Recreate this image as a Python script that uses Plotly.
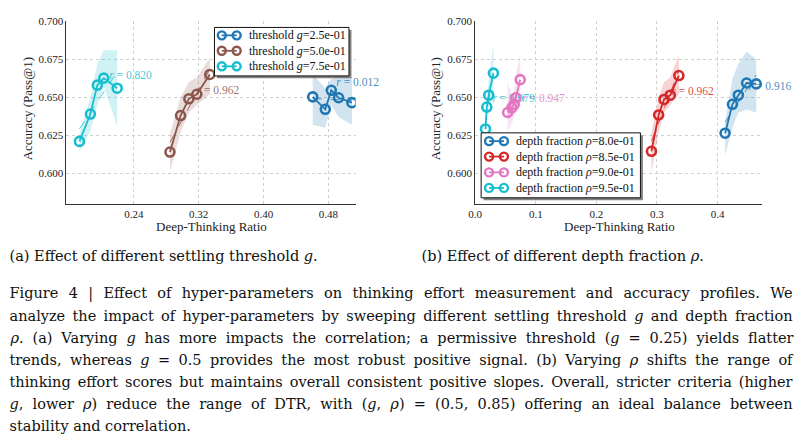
import json
import numpy as np
import plotly.graph_objects as go

# ---- data ----
# (a) settling threshold g
g_names = ['threshold <i>g</i>=2.5e-01', 'threshold <i>g</i>=5.0e-01', 'threshold <i>g</i>=7.5e-01']
g_x = [
    [0.4606, 0.4761, 0.4835, 0.4925, 0.5089],
    [0.2846, 0.2977, 0.3079, 0.3177, 0.3337],
    [0.1730, 0.1865, 0.1950, 0.2030, 0.2195],
]
g_acc = [
    [0.6503, 0.6421, 0.6546, 0.6497, 0.6465],
    [0.6140, 0.6380, 0.6490, 0.6520, 0.6650],
    [0.6210, 0.6390, 0.6580, 0.6626, 0.6560],
]
g_lo = [
    [0.632, 0.630, 0.645, 0.637, 0.632],
    [0.601, 0.627, 0.640, 0.645, 0.652],
    [0.614, 0.628, 0.645, 0.657, 0.631],
]
g_hi = [
    [0.665, 0.656, 0.662, 0.664, 0.663],
    [0.626, 0.650, 0.660, 0.663, 0.676],
    [0.626, 0.650, 0.672, 0.681, 0.681],
]
g_r = ['0.012', '0.962', '0.820']

# (b) depth fraction rho
rho_names = ['depth fraction <i>ρ</i>=8.0e-01', 'depth fraction <i>ρ</i>=8.5e-01',
             'depth fraction <i>ρ</i>=9.0e-01', 'depth fraction <i>ρ</i>=9.5e-01']
rho_x = [
    [0.4125, 0.4246, 0.4344, 0.4480, 0.4639],
    [0.2909, 0.3028, 0.3117, 0.3220, 0.3362],
    [0.0535, 0.0606, 0.0645, 0.0671, 0.0743],
    [0.0170, 0.0192, 0.0224, 0.0301],
]
rho_acc = [
    [0.6264, 0.6454, 0.6514, 0.6594, 0.6588],
    [0.6145, 0.6384, 0.6486, 0.6514, 0.6643],
    [0.6400, 0.6432, 0.6454, 0.6497, 0.6616],
    [0.6292, 0.6436, 0.6514, 0.6659],
]
rho_lo = [
    [0.612, 0.630, 0.640, 0.642, 0.640],
    [0.600, 0.627, 0.640, 0.645, 0.652],
    [0.627, 0.633, 0.637, 0.640, 0.645],
    [0.622, 0.637, 0.643, 0.650],
]
rho_hi = [
    [0.634, 0.662, 0.672, 0.680, 0.675],
    [0.627, 0.650, 0.660, 0.663, 0.678],
    [0.660, 0.652, 0.655, 0.665, 0.678],
    [0.636, 0.650, 0.662, 0.685],
]
rho_r = ['0.916', '0.962', '0.947', '0.979']

y_ticks = [0.600, 0.625, 0.650, 0.675, 0.700]
xa_ticks = [0.24, 0.32, 0.40, 0.48]
xb_ticks = [0.0, 0.1, 0.2, 0.3, 0.4]

# where the r = ... labels sit (data coords)
g_r_pos = [(0.4897, 0.659), (0.3175, 0.654), (0.2097, 0.6637)]
rho_r_pos = [(0.4513, 0.6566), (0.3236, 0.6536), (0.0776, 0.6486), (0.028, 0.649)]

g_cols = [(31, 119, 180), (140, 86, 75), (23, 190, 207)]
rho_cols = [(31, 119, 180), (214, 39, 40), (227, 119, 194), (23, 190, 207)]

caption_a = '(a) Effect of different settling threshold <i>g</i>.'
caption_b = '(b) Effect of different depth fraction <i>ρ</i>.'
para = [
    'Figure 4 | Effect of hyper-parameters on thinking effort measurement and accuracy profiles. We',
    'analyze the impact of hyper-parameters by sweeping different settling threshold <i>g</i> and depth fraction',
    '<i>ρ</i>. (a) Varying <i>g</i> has more impacts the correlation; a permissive threshold (<i>g</i> = 0.25) yields flatter',
    'trends, whereas <i>g</i> = 0.5 provides the most robust positive signal. (b) Varying <i>ρ</i> shifts the range of',
    'thinking effort scores but maintains overall consistent positive slopes. Overall, stricter criteria (higher',
    '<i>g</i>, lower <i>ρ</i>) reduce the range of DTR, with (<i>g</i>, <i>ρ</i>) = (0.5, 0.85) offering an ideal balance between',
    'stability and correlation.',
]

W, H = 803, 445
PLOT_FONT = 'Liberation Serif'
TEXT_FONT = 'DejaVu Serif'


def px(x):
    return x / W


def py(y):
    return 1 - y / H


def rgba(c, a):
    return 'rgba(%d,%d,%d,%g)' % (c[0], c[1], c[2], a)


fig = go.Figure()
shapes = []
ann = []


def add_panel(xs, ys, los, his, rs, rpos, cols, xax, yax):
    # bands
    for x, lo, hi, c in zip(xs, los, his, cols):
        fig.add_trace(go.Scatter(x=x + x[::-1], y=hi + lo[::-1], fill='toself',
                                 fillcolor=rgba(c, 0.2), line=dict(width=0),
                                 mode='lines', showlegend=False, hoverinfo='skip',
                                 xaxis=xax, yaxis=yax))
    # dashed linear fits
    for x, y, c in zip(xs, ys, cols):
        k, b = np.polyfit(x, y, 1)
        xx = np.array([min(x), max(x)])
        fig.add_trace(go.Scatter(x=xx, y=k * xx + b, mode='lines',
                                 line=dict(color=rgba(c, 0.8), width=1, dash='dash'),
                                 showlegend=False, hoverinfo='skip', xaxis=xax, yaxis=yax))
    # r labels (under the markers)
    for r, (lx, ly), c in zip(rs, rpos, cols):
        fig.add_trace(go.Scatter(x=[lx], y=[ly], mode='text', text=['<i>r</i> = ' + r],
                                 textposition='middle right',
                                 textfont=dict(family=PLOT_FONT, size=11.5, color=rgba(c, 0.85)),
                                 showlegend=False, hoverinfo='skip', cliponaxis=False,
                                 xaxis=xax, yaxis=yax))
    # main series
    for x, y, c in zip(xs, ys, cols):
        fig.add_trace(go.Scatter(x=x, y=y, mode='lines+markers', showlegend=False,
                                 line=dict(color=rgba(c, 1), width=1.8),
                                 marker=dict(symbol='circle-open', size=9, color=rgba(c, 1),
                                             line=dict(width=2.6)),
                                 xaxis=xax, yaxis=yax))


def add_legend(names, cols, box, row_y, c1, c2, tx):
    x0, y0, x1, y1 = box
    shapes.append(dict(type='rect', xref='paper', yref='paper', layer='above',
                       x0=px(x0 + 2.5), x1=px(x1 + 2.5), y0=py(y0 + 2.5), y1=py(y1 + 2.5),
                       fillcolor='rgba(90,90,90,0.75)', line=dict(width=0)))
    shapes.append(dict(type='rect', xref='paper', yref='paper', layer='above',
                       x0=px(x0), x1=px(x1), y0=py(y0), y1=py(y1),
                       fillcolor='white', line=dict(color='#111111', width=1)))
    for n, c, ry in zip(names, cols, row_y):
        shapes.append(dict(type='line', xref='paper', yref='paper', layer='above',
                           x0=px(c1), x1=px(c2), y0=py(ry), y1=py(ry),
                           line=dict(color=rgba(c, 1), width=1.8)))
        for cx in (c1, c2):
            shapes.append(dict(type='circle', xref='paper', yref='paper', layer='above',
                               xsizemode='pixel', ysizemode='pixel',
                               xanchor=px(cx), yanchor=py(ry), x0=-4, x1=4, y0=-4, y1=4,
                               fillcolor='rgba(0,0,0,0)', line=dict(color=rgba(c, 1), width=2.4)))
        ann.append(dict(x=px(tx), y=py(ry), xref='paper', yref='paper', text=n,
                        xanchor='left', yanchor='middle', showarrow=False,
                        font=dict(family=PLOT_FONT, size=12, color='#111111')))


add_panel(g_x, g_acc, g_lo, g_hi, g_r, g_r_pos, g_cols, 'x', 'y')
add_panel(rho_x, rho_acc, rho_lo, rho_hi, rho_r, rho_r_pos, rho_cols, 'x2', 'y2')

add_legend(g_names, g_cols, (209.3, 22.7, 345, 71.7), [30.7, 46.3, 62.0], 216.7, 231.7, 242)
add_legend(rho_names, rho_cols, (478.3, 129.3, 639, 195), [137.7, 153.3, 169.3, 185.0],
           486.3, 501.3, 511.5)

y_dom = [py(201), py(15.7)]
axis_common = dict(showgrid=True, gridcolor='#d0d0d0', griddash='dot', gridwidth=1,
                   showline=True, linecolor='#333333', linewidth=1, ticks='', zeroline=False,
                   tickfont=dict(family=PLOT_FONT, size=11, color='#222222'))

fig.update_layout(
    width=W, height=H, margin=dict(l=0, r=0, t=0, b=0),
    paper_bgcolor='white', plot_bgcolor='white', showlegend=False,
    xaxis=dict(domain=[px(60), px(351.7)], range=[0.157, 0.5135], tickvals=xa_ticks,
               ticktext=['%.2f' % v for v in xa_ticks], anchor='y', **axis_common),
    yaxis=dict(domain=y_dom, range=[0.58, 0.7005], tickvals=y_ticks,
               ticktext=['%.3f' % v for v in y_ticks], anchor='x', **axis_common),
    xaxis2=dict(domain=[px(472.3), px(761.7)], range=[0, 0.4735], tickvals=xb_ticks,
                ticktext=['%.1f' % v for v in xb_ticks], anchor='y2', **axis_common),
    yaxis2=dict(domain=y_dom, range=[0.58, 0.7005], tickvals=y_ticks,
                ticktext=['%.3f' % v for v in y_ticks], anchor='x2', **axis_common),
)

title_font = dict(family=PLOT_FONT, size=13, color='#222222')
for xc in (20.7, 432.3):
    ann.append(dict(x=px(xc), y=py(105), xref='paper', yref='paper', text='Accuracy (Pass@1)',
                    textangle=-90, xanchor='center', yanchor='middle', showarrow=False,
                    font=title_font))
for xc in (206.3, 617.7):
    ann.append(dict(x=px(xc), y=py(224.5), xref='paper', yref='paper', text='Deep-Thinking Ratio',
                    xanchor='center', yanchor='middle', showarrow=False, font=title_font))

txt_font = dict(family=TEXT_FONT, size=14.5, color='#111111')
ann.append(dict(x=px(8), y=py(254), xref='paper', yref='paper', text=caption_a,
                xanchor='left', yanchor='middle', align='left', showarrow=False, font=txt_font))
ann.append(dict(x=px(419.5), y=py(254), xref='paper', yref='paper', text=caption_b,
                xanchor='left', yanchor='middle', align='left', showarrow=False, font=txt_font))
for i, line in enumerate(para):
    ann.append(dict(x=px(8), y=py(291.7 + 22.4 * i), xref='paper', yref='paper',
                    text=line, xanchor='left', yanchor='middle', align='left',
                    showarrow=False, font=txt_font))
fig.update_layout(annotations=ann, shapes=shapes)

# text blocks: left edge in page px, and justified width (0 = ragged)
blocks = {caption_a: [9.5, 0], caption_b: [421.5, 0], para[6]: [9.5, 0]}
for line in para[:6]:
    blocks[line] = [9.5, 783]

# pin the plot to the page origin, justify the paragraph lines and pin their left edges
page_js = """
document.documentElement.style.margin = '0';
document.body.style.margin = '0';
document.body.style.overflow = 'hidden';
var gd = document.getElementById('{plot_id}');
gd.style.position = 'absolute';
gd.style.left = '0px';
gd.style.top = '0px';
var blocks = %s;
var els = document.querySelectorAll('text.annotation-text');
for (var i = 0; i < els.length; i++) {
  var t = els[i];
  var spec = blocks[t.getAttribute('data-unformatted')];
  if (!spec) continue;
  if (spec[1] > 0) {
    var len = t.getComputedTextLength();
    var n = (t.textContent.match(/ /g) || []).length;
    if (n > 0 && len < spec[1]) t.style.wordSpacing = ((spec[1] - len) / n) + 'px';
  }
  var dx = spec[0] - t.getBoundingClientRect().left;
  var tr = t.getAttribute('transform') || '';
  t.setAttribute('transform', tr + ' translate(' + dx + ',0)');
}
""" % json.dumps(blocks)

fig.write_html("out.html", post_script=page_js, config={'displayModeBar': False})
